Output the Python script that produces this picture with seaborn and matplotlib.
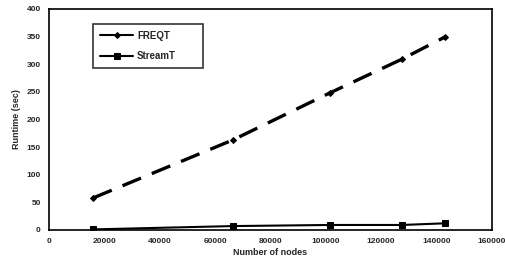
import seaborn as sns
import pandas as pd
import matplotlib.pyplot as plt

nodes = [16000, 66500, 101500, 127500, 143000]
freqt = [58, 163, 248, 309, 349]
streamt = [1, 7, 9, 9, 12]

df = pd.DataFrame({
    "nodes": nodes * 2,
    "runtime": freqt + streamt,
    "method": ["FREQT"] * len(nodes) + ["StreamT"] * len(nodes),
})

sns.set_style("white")
plt.rcParams["font.family"] = ["Liberation Sans", "DejaVu Sans"]
plt.rcParams["font.weight"] = "bold"

fig = plt.figure(figsize=(5.05, 2.61), dpi=100)
ax = fig.add_axes([0.097, 0.119, 0.877, 0.847])

sns.lineplot(data=df, x="nodes", y="runtime", hue="method", style="method",
             palette=["black", "black"], dashes={"FREQT": (6, 3.5), "StreamT": ""},
             markers={"FREQT": "D", "StreamT": "s"},
             markeredgecolor="black", ax=ax)
for line, lw, ms in zip(ax.lines, [2.4, 1.5], [3, 5]):
    line.set_linewidth(lw)
    line.set_markersize(ms)

ax.set_xlim(0, 160000)
ax.set_ylim(0, 400)
ax.set_xticks(range(0, 160001, 20000))
ax.set_yticks(range(0, 401, 50))
ax.tick_params(labelsize=6, length=0, pad=6)
for lab in ax.get_xticklabels() + ax.get_yticklabels():
    lab.set_fontweight("bold")
for s in ax.spines.values():
    s.set_color("black")
    s.set_linewidth(1.2)

ax.set_xlabel("Number of nodes", fontsize=6.5, fontweight="bold", labelpad=2)
ax.set_ylabel("Runtime (sec)", fontsize=6.5, fontweight="bold", labelpad=4)

handles, labels = ax.get_legend_handles_labels()
for h, ms in zip(handles, [3, 5]):
    h.set_markersize(ms)
    h.set_linestyle("-")
    h.set_linewidth(1.5)
leg = ax.legend(handles, labels, loc="upper left",
                bbox_to_anchor=(0.1, 0.737, 0.248, 0.195), mode="expand",
                borderaxespad=0, fontsize=7, frameon=True, fancybox=False,
                edgecolor="black", handlelength=3.4, borderpad=0.7,
                labelspacing=1.1, handletextpad=0.4)
leg.get_frame().set_linewidth(1.2)
for t in leg.get_texts():
    t.set_fontweight("bold")

fig.savefig("out.png", dpi=100)
